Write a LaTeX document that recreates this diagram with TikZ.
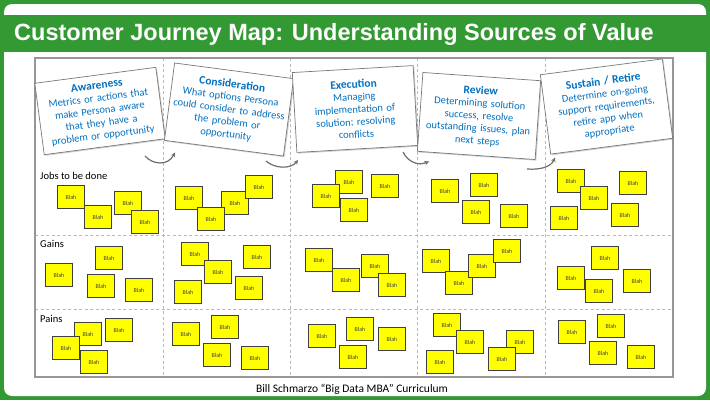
\documentclass[tikz,border=0pt]{standalone}
\usepackage{fontspec}
\setmainfont{Carlito}
\newfontfamily\titlefont{Liberation Sans}
\usetikzlibrary{shadows,arrows.meta}
\definecolor{frameGreen}{RGB}{51,153,51}
\definecolor{cardBlue}{RGB}{0,112,192}
\definecolor{noteYellow}{RGB}{255,255,0}
\definecolor{noteEdge}{RGB}{64,64,64}
\definecolor{gridGray}{RGB}{150,150,150}
\definecolor{dashGray}{RGB}{185,185,185}
\definecolor{arrowGray}{RGB}{110,110,110}
\definecolor{cardEdge}{RGB}{120,120,120}
\newcommand{\cardhead}[1]{{\fontsize{11.5}{12.5}\selectfont\bfseries #1}}
\tikzset{
  card/.style={draw=cardEdge, line width=0.7pt, fill=white, inner sep=0pt,
    text width=118pt, align=center, text=cardBlue,
    font=\fontsize{10.5}{12.5}\selectfont,
    drop shadow={opacity=0.35, shadow xshift=1.2pt, shadow yshift=-1.2pt}},
  note/.style={draw=noteEdge, line width=1.1pt, fill=noteYellow, inner sep=0pt,
    minimum width=27pt, minimum height=23pt, text=black!75,
    font=\fontsize{6}{7}\selectfont},
  rowlabel/.style={anchor=base west, inner sep=0pt, font=\fontsize{10.5}{12}\selectfont},
  gridline/.style={dashGray, line width=0.9pt, dash pattern=on 3pt off 2.5pt},
  flow/.style={arrowGray, line width=1.2pt, -{Stealth[length=4.5pt,width=4.5pt]}}
}
\begin{document}
\begin{tikzpicture}[x=1pt,y=-1pt]
% frame
\fill[frameGreen] (0,0) rectangle (710,400);
\useasboundingbox (0,0) rectangle (710,400);
\fill[white, rounded corners=8pt] (4,4) rectangle (706,396);
\fill[frameGreen] (0,15) rectangle (710,51.5);
\node[anchor=base west, inner sep=0pt, text=white, font=\titlefont\bfseries\fontsize{23.5}{26}\selectfont]
  (title) at (14,40.7) {Customer Journey Map: Understanding Sources of Value};

% grid
\foreach \gx in {163,290,417,545} \draw[gridline] (\gx,58) -- (\gx,377);
\foreach \gy in {235,309} \draw[gridline] (35,\gy) -- (673,\gy);
\draw[gridGray, line width=1.8pt] (35,58) rectangle (673,377);

% row labels
\node[rowlabel] (jobs) at (40,179) {Jobs to be done};
\node[rowlabel] (gains) at (40,247.3) {Gains};
\node[rowlabel] (pains) at (40,322.7) {Pains};

% flow arrows
\coordinate (a1s) at (145,156); \coordinate (a1e) at (175,152.5);
\coordinate (a2s) at (266,161); \coordinate (a2e) at (298,160);
\coordinate (a3s) at (403,152); \coordinate (a3e) at (429,161.5);
\coordinate (a4s) at (527,169); \coordinate (a4e) at (555,157.5);
\draw[flow] (a1s) .. controls (153,165) and (168,166) .. (a1e);
\draw[flow] (a2s) .. controls (275,169) and (291,169) .. (a2e);
\draw[flow] (a3s) .. controls (408,162) and (418,166) .. (a3e);
\draw[flow] (a4s) .. controls (540,170) and (551,167) .. (a4e);

% header cards
\node[card, minimum width=122pt, minimum height=72pt, rotate=7.5] (aware) at (100,111)
  {\cardhead{Awareness}\\Metrics or actions that\\make Persona aware\\that they have a\\problem or opportunity};
\node[card, minimum width=120pt, minimum height=78pt, rotate=-7.5] (consider) at (229,109.5)
  {\cardhead{Consideration}\\What options Persona\\could consider to address\\the problem or\\opportunity};
\node[card, minimum width=121pt, minimum height=80pt, rotate=3.3] (execute) at (355,109)
  {\cardhead{Execution}\\Managing\\implementation of\\solution; resolving\\conflicts};
\node[card, minimum width=116pt, minimum height=79pt, rotate=-4] (review) at (479,116)
  {\cardhead{Review}\\Determining solution\\success, resolve\\outstanding issues, plan\\next steps};
\node[card, minimum width=123pt, minimum height=80pt, rotate=7.4] (sustain) at (606.5,106.5)
  {\cardhead{Sustain / Retire}\\Determine on-going\\support requirements,\\retire app when\\appropriate};

% sticky notes: jobs to be done
\foreach \nx/\ny [count=\i] in {71/197, 98/217, 128/203, 145/222,
    189/198, 235/203, 259/187, 211/219,
    349/182, 326/196, 354/210, 385/186,
    445/191, 484/185, 476/212, 514/216,
    571/181, 594/198, 564/218, 633/183, 625/215}
  \node[note] (job\i) at (\nx,\ny) {Blah};
% gains
\foreach \nx/\ny [count=\i] in {109/258, 59/275, 101/286, 139/290,
    195/254, 218/272, 257/257, 188/292, 249/288,
    319/260, 346/280, 375/266, 392/285,
    436/261, 459/283, 482/266, 507/251,
    605/258, 571/278, 599/291, 637/281}
  \node[note] (gain\i) at (\nx,\ny) {Blah};
% pains
\foreach \nx/\ny [count=\i] in {88/334, 119/330, 66/348, 94/362,
    186/334, 225/327, 217/355, 255/358,
    322/336, 360/329, 392/339, 353/357,
    447/325, 470/342, 520/342, 440/362, 502/359,
    572/332, 611/326, 603/353, 641/357}
  \node[note] (pain\i) at (\nx,\ny) {Blah};

% footer
\node[anchor=base, inner sep=0pt, font=\fontsize{11.5}{13}\selectfont] (footer) at (352,392)
  {Bill Schmarzo “Big Data MBA” Curriculum};
\end{tikzpicture}
\end{document}
